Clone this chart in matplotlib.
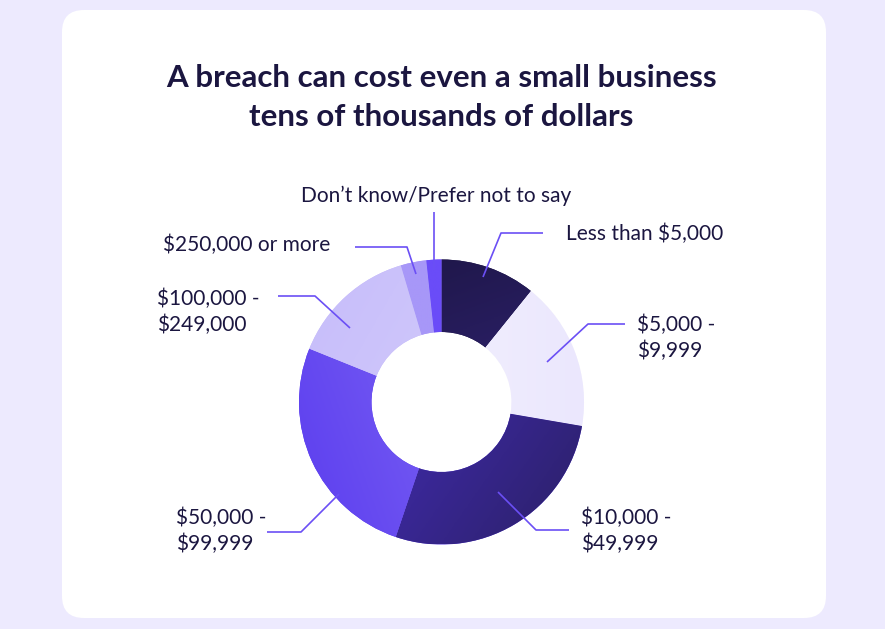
import numpy as np
import matplotlib
matplotlib.use("Agg")
import matplotlib.pyplot as plt
from matplotlib.patches import FancyBboxPatch
from matplotlib.colors import LinearSegmentedColormap

# ---- data ----
categories = ["Less than $5,000", "$5,000 -\n$9,999", "$10,000 -\n$49,999",
              "$50,000 -\n$99,999", "$100,000 -\n$249,000", "$250,000 or more",
              "Don\u2019t know/Prefer not to say"]
values = [10.8, 16.9, 27.5, 25.9, 14.3, 2.9, 1.7]

# gradient colours per slice (start, end, direction angle in degrees)
grad_start = ["#1c1542", "#f7f6fe", "#4d31d6", "#5b3def", "#c6bcfa", "#a797f8", "#6a4cf8"]
grad_end   = ["#3a2a8c", "#ebe7fd", "#2b2066", "#8f7af6", "#dad4fc", "#a797f8", "#6a4cf8"]
grad_dir   = [-70, 0, -35, 20, -30, 0, 0]

W, H = 885, 629
TXT = "#1b1640"
LINE = "#6b4ff5"

def P(x, y):
    return x, H - y

fig = plt.figure(figsize=(W / 100, H / 100), dpi=100)
fig.patch.set_facecolor("#edeafe")
ax = fig.add_axes([0, 0, 1, 1])

card = FancyBboxPatch((62, H - 618), 764, 608, boxstyle="round,pad=0,rounding_size=22",
                      facecolor="white", edgecolor="none", zorder=0)
ax.add_patch(card)

cx, cy = P(441.5, 402)
R = 142.5
wedges, _ = ax.pie(values, startangle=90, counterclock=False, radius=R,
                   center=(cx, cy), wedgeprops=dict(width=72.5, linewidth=0),
                   colors=grad_start, frame=True)
ax.set_xlim(0, W)
ax.set_ylim(0, H)
ax.set_aspect("auto")
ax.axis("off")

# gradient fills clipped to the wedges
n = 256
yy, xx = np.mgrid[-1:1:n * 1j, -1:1:n * 1j]
for w, c0, c1, ang in zip(wedges, grad_start, grad_end, grad_dir):
    a = np.deg2rad(ang)
    t = (xx * np.cos(a) + yy * np.sin(a))
    t = (t - t.min()) / (t.max() - t.min())
    cmap = LinearSegmentedColormap.from_list("g", [c0, c1])
    im = ax.imshow(t, cmap=cmap, extent=(cx - R, cx + R, cy - R, cy + R),
                   origin="lower", zorder=2, interpolation="bilinear")
    im.set_clip_path(w)

# title
ax.text(*P(441, 78), "A breach can cost even a small business", ha="center", va="center",
        fontsize=22.5, fontweight="bold", family="Lato", color=TXT)
ax.text(*P(441, 117), "tens of thousands of dollars", ha="center", va="center",
        fontsize=22.5, fontweight="bold", family="Lato", color=TXT)

# leader lines and labels (pixel layout)
leaders = [
    [(483, 277), (501, 233), (543, 233)],
    [(547, 362), (588, 324), (625, 324)],
    [(498, 492), (536, 530), (569, 530)],
    [(339, 494), (301, 532), (267, 532)],
    [(350, 328), (315, 296), (278, 296)],
    [(416, 274), (407, 247), (355, 247)],
    [(434, 270), (434, 212)],
]
label_pos = [(566, 234, "left"), (637, 338, "left"), (581, 531, "left"),
             (176, 531, "left"), (157, 312, "left"), (163, 245, "left"),
             (436, 196, "center")]

for pts in leaders:
    xs = [p[0] for p in pts]
    ys = [H - p[1] for p in pts]
    ax.plot(xs, ys, color=LINE, lw=1.2, zorder=4, solid_capstyle="butt")

for lab, (x, y, ha) in zip(categories, label_pos):
    ax.text(*P(x, y), lab, ha=ha, va="center", fontsize=15, family="Lato",
            color=TXT, linespacing=1.3, zorder=5)

fig.savefig("out.png", dpi=100, facecolor=fig.get_facecolor())
